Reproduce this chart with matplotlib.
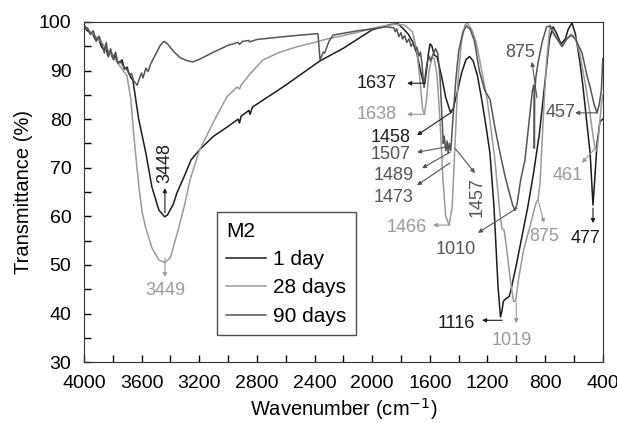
import matplotlib
matplotlib.use('Agg')
import matplotlib.pyplot as plt

plt.rcParams['font.family'] = ['Liberation Sans', 'DejaVu Sans']

# FTIR spectra of M2 (wavenumber cm-1, transmittance %)
wn_1d = [4000, 3980, 3960, 3940, 3920, 3900, 3880, 3860, 3850, 3835, 3820, 3800, 3785, 3770, 3750,
         3735, 3720, 3700, 3690, 3675, 3660, 3640, 3620, 3570, 3528, 3480, 3440, 3420, 3380, 3355,
         3300, 3257, 3195, 3100, 3000, 2930, 2920, 2910, 2855, 2848, 2830, 2600, 2362, 2200, 2000,
         1870, 1820, 1780, 1750, 1720, 1690, 1665, 1645, 1635, 1625, 1610, 1598, 1585, 1570, 1550,
         1520, 1490, 1458, 1440, 1410, 1380, 1350, 1325, 1300, 1270, 1240, 1210, 1183, 1155, 1127,
         1110, 1100, 1090, 1075, 1050, 1040, 1000, 960, 920, 880, 840, 800, 770, 745, 720, 690, 660,
         640, 614, 590, 560, 537, 510, 488, 475, 468, 455, 440, 420, 400]
tr_1d = [99.5, 98.3, 97.9, 97.6, 96.3, 96.9, 95.0, 94.2, 95.3, 93.1, 94.0, 92.6, 93.4, 91.9, 91.6,
         92.2, 90.3, 90.7, 89.6, 88.6, 88.0, 84.0, 80.0, 73.0, 66.0, 61.3, 59.9, 60.3, 62.5, 64.8,
         68.5, 71.6, 73.8, 76.5, 78.5, 80.0, 79.2, 80.6, 81.8, 81.0, 82.5, 87.0, 92.0, 94.6, 98.4,
         99.5, 99.6, 98.5, 97.5, 96.0, 93.5, 90.0, 87.5, 87.4, 89.5, 93.5, 95.5, 95.0, 93.2, 92.8,
         89.0, 84.5, 81.5, 82.0, 85.5, 89.5, 92.2, 92.9, 92.0, 89.0, 84.0, 78.5, 73.0, 62.0, 45.5,
         39.3, 40.5, 42.5, 43.0, 43.5, 44.5, 50.0, 56.0, 62.0, 69.0, 77.0, 88.0, 96.5, 99.0, 97.6,
         95.5, 96.5, 98.5, 99.8, 97.5, 92.0, 86.6, 79.0, 73.0, 66.0, 62.3, 68.0, 75.0, 79.5, 80.0]

wn_28d = [4000, 3900, 3800, 3740, 3702, 3674, 3653, 3618, 3597, 3570, 3528, 3480, 3438, 3400, 3348,
          3300, 3264, 3200, 3100, 3008, 2938, 2920, 2910, 2848, 2758, 2640, 2522, 2400, 2314, 2200,
          2085, 1950, 1850, 1780, 1720, 1690, 1665, 1650, 1638, 1625, 1605, 1585, 1570, 1550, 1530,
          1510, 1490, 1466, 1445, 1425, 1405, 1380, 1356, 1340, 1310, 1280, 1250, 1202, 1150, 1115,
          1100, 1085, 1070, 1040, 1019, 1005, 985, 950, 900, 875, 860, 850, 835, 810, 790, 766, 745,
          683, 650, 620, 590, 560, 520, 488, 465, 453, 440, 425, 410, 400]
tr_28d = [99.3, 96.5, 93.0, 90.5, 89.0, 84.0, 76.3, 66.0, 61.0, 57.5, 53.5, 51.0, 50.5, 51.5, 57.0,
          62.5, 67.5, 73.5, 79.5, 84.6, 86.6, 86.2, 87.0, 89.3, 92.2, 93.8, 94.9, 95.8, 96.5, 97.2,
          98.0, 99.0, 99.5, 99.4, 98.0, 94.0, 87.0, 82.0, 81.0, 83.5, 90.0, 92.7, 92.5, 89.0, 80.0,
          68.0, 60.0, 58.2, 62.0, 75.0, 88.0, 96.0, 99.4, 99.8, 98.5, 96.0, 91.5, 84.0, 72.0, 61.0,
          57.5, 57.2, 54.0, 46.5, 42.5, 42.5, 47.0, 53.0, 58.5, 61.5, 63.0, 63.4, 67.0, 82.0, 92.0,
          99.4, 98.0, 94.9, 96.5, 97.5, 96.8, 93.5, 87.0, 81.0, 76.0, 74.0, 73.5, 78.0, 83.0, 85.0]

wn_90d = [4000, 3975, 3955, 3935, 3915, 3895, 3875, 3858, 3845, 3830, 3815, 3795, 3780, 3765, 3745,
          3730, 3715, 3698, 3685, 3670, 3655, 3630, 3610, 3600, 3590, 3570, 3555, 3535, 3500, 3470,
          3445, 3420, 3380, 3330, 3280, 3243, 3200, 3100, 3000, 2930, 2920, 2900, 2855, 2850, 2800,
          2640, 2500, 2411, 2376, 2362, 2350, 2340, 2330, 2300, 2272, 2100, 1900, 1850, 1840, 1830,
          1815, 1800, 1790, 1775, 1760, 1745, 1730, 1715, 1700, 1690, 1675, 1665, 1655, 1648, 1640,
          1632, 1620, 1605, 1595, 1580, 1560, 1545, 1530, 1515, 1507, 1500, 1489, 1480, 1473, 1465,
          1455, 1440, 1420, 1400, 1370, 1345, 1320, 1290, 1257, 1220, 1182, 1150, 1113, 1080, 1050,
          1025, 1010, 995, 970, 940, 910, 890, 880, 876, 875, 873, 865, 850, 820, 790, 766, 740, 683,
          650, 620, 590, 544, 510, 488, 460, 440, 425, 410, 400]
tr_90d = [99.0, 98.8, 97.4, 98.2, 96.0, 97.1, 95.4, 93.6, 95.8, 92.8, 94.5, 92.2, 93.8, 91.5, 92.0,
          91.0, 90.6, 90.0, 89.2, 89.4, 87.9, 87.0, 88.8, 89.5, 88.5, 90.5, 89.8, 91.5, 93.5, 95.2,
          96.0, 95.5, 94.0, 92.6, 92.0, 91.8, 92.3, 93.8, 95.2, 95.8, 95.4, 96.0, 96.2, 95.9, 96.4,
          96.9, 97.3, 97.5, 97.6, 92.2, 93.0, 93.8, 93.6, 96.0, 97.3, 98.2, 99.0, 98.8, 98.0, 98.6,
          97.0, 97.8, 96.5, 97.2, 95.8, 96.5, 95.0, 95.8, 94.2, 94.8, 93.0, 93.8, 91.5, 89.0, 86.5,
          89.0, 91.5, 93.0, 92.0, 93.2, 94.5, 93.5, 89.0, 80.0, 75.0, 76.5, 73.5, 75.5, 73.0, 75.0,
          73.5, 80.0, 88.0, 94.0, 98.0, 99.2, 98.5, 96.0, 90.0, 86.0, 84.0, 78.5, 73.0, 68.5, 65.0,
          62.3, 61.2, 62.5, 67.5, 71.6, 80.0, 85.5, 87.0, 86.5, 74.0, 85.0, 88.5, 91.5, 96.0, 99.0,
          99.2, 97.5, 95.0, 96.5, 97.3, 96.5, 93.6, 89.0, 86.6, 83.0, 81.3, 83.0, 86.0, 92.5]

series_labels = ['1 day', '28 days', '90 days']
series_colors = ['#1c1c1c', '#9a9a9a', '#555555']

# peak labels: text, colour, text position, arrow tail (on curve), arrow head
c_blk, c_lt, c_dk = series_colors
peaks = [
    ('3448', c_blk, (3438, 71.0), (3438, 60.7), (3438, 65.8), 'center', 90),
    ('3449', c_lt, (3438, 44.8), (3438, 51.4), (3438, 47.5), 'center', 0),
    ('1637', c_blk, (1828, 87.4), (1633, 87.4), (1758, 87.4), 'right', 0),
    ('1638', c_lt, (1828, 80.9), (1633, 81.0), (1758, 81.0), 'right', 0),
    ('1458', c_blk, (1731, 76.3), (1446, 81.5), (1689, 76.7), 'right', 0),
    ('1507', c_dk, (1731, 72.8), (1480, 74.3), (1689, 73.2), 'right', 0),
    ('1489', c_dk, (1710, 68.5), (1460, 73.2), (1654, 69.9), 'right', 0),
    ('1473', c_dk, (1710, 63.8), (1460, 71.0), (1689, 66.4), 'right', 0),
    ('1457', c_dk, (1273, 64.0), (1425, 74.0), (1287, 68.9), 'center', 90),
    ('1466', c_lt, (1620, 57.8), (1460, 58.2), (1578, 58.2), 'right', 0),
    ('1010', c_dk, (1280, 53.1), (995, 61.7), (1266, 56.6), 'right', 0),
    ('1116', c_blk, (1287, 38.0), (1099, 38.6), (1238, 38.6), 'right', 0),
    ('1019', c_lt, (1030, 34.5), (1000, 42.2), (1000, 38.0), 'center', 0),
    ('875', c_dk, (974, 93.8), (857, 84.4), (891, 91.8), 'center', 0),
    ('875', c_lt, (808, 55.9), (849, 63.4), (808, 58.6), 'center', 0),
    ('477', c_blk, (523, 55.5), (468, 61.7), (468, 58.6), 'center', 0),
    ('457', c_dk, (592, 81.3), (440, 81.3), (592, 81.3), 'right', 0),
    ('461', c_lt, (641, 68.5), (453, 74.0), (544, 71.0), 'center', 0),
]

fig = plt.figure(figsize=(6.17, 4.23), dpi=100)
ax = fig.add_axes([0.136, 0.144, 0.841, 0.804])

for wn, tr, lab, col in zip([wn_1d, wn_28d, wn_90d], [tr_1d, tr_28d, tr_90d],
                            series_labels, series_colors):
    ax.plot(wn, tr, color=col, lw=1.1, label=lab)

for txt, col, pos, tail, head, ha, rot in peaks:
    ax.annotate('', xy=head, xytext=tail,
                arrowprops=dict(arrowstyle='-|>', color=col, lw=0.8,
                                mutation_scale=6, shrinkA=0, shrinkB=0))
    ax.text(pos[0], pos[1], txt, color=col, fontsize=13, ha=ha, va='center',
            rotation=rot)

ax.set_xlim(4000, 400)
ax.set_ylim(30, 100)
ax.set_xticks(range(4000, 399, -400))
ax.set_xticks(range(4000, 399, -200), minor=True)
ax.set_yticks(range(30, 101, 10))
ax.set_yticks(range(30, 101, 5), minor=True)
ax.tick_params(which='both', direction='in', labelsize=14, width=1, length=5)
ax.tick_params(axis='x', which='major', pad=9)
ax.tick_params(axis='y', which='major', pad=9)
for sp in ax.spines.values():
    sp.set_color('#333333')

ax.set_xlabel('Wavenumber (cm$^{-1}$)', fontsize=14.5, labelpad=3)
ax.set_ylabel('Transmittance (%)', fontsize=14.5, labelpad=4)

leg = ax.legend(title='M2', loc='lower left', bbox_to_anchor=(0.256, 0.079),
                borderaxespad=0, fontsize=15, title_fontsize=15, frameon=True,
                fancybox=False, handlelength=1.9, handletextpad=0.35,
                borderpad=0.45, labelspacing=0.45)
leg.get_frame().set_edgecolor('#222222')
leg.get_frame().set_linewidth(1)
leg._legend_box.align = 'left'

fig.savefig('out.png', dpi=100)
plt.close(fig)
